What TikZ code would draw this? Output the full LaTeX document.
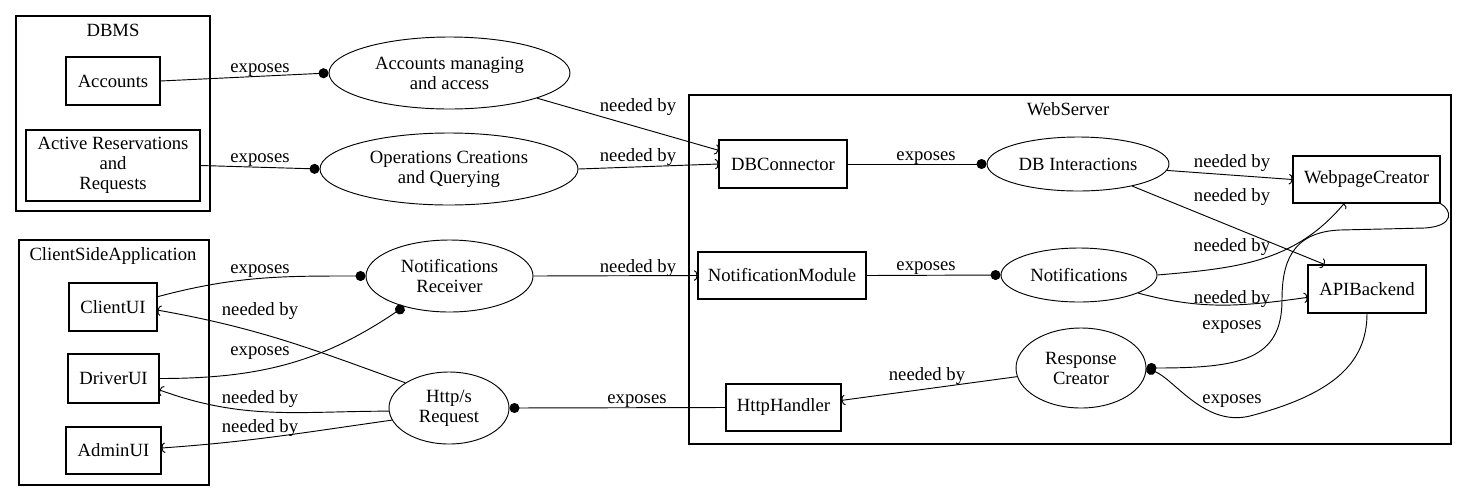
\documentclass[tikz,border=0pt]{standalone}
\usepackage{fontspec}
\setmainfont{Liberation Serif}
\newfontfamily\tnrfont{Liberation Serif}
\usetikzlibrary{shapes.geometric,arrows.meta}
\begin{document}
\begin{tikzpicture}[x=0.75pt,y=-0.75pt,
  every node/.style={font=\tnrfont\fontsize{14}{15}\selectfont},
  box/.style={draw, rectangle, inner sep=0pt, align=center, line width=0.8pt},
  ell/.style={draw, ellipse, inner sep=0pt, align=center, line width=0.7pt},
  clus/.style={draw, line width=0.8pt},
  lbl/.style={inner sep=0pt, yshift=-2pt},
  exp/.style={-{Circle[length=7.5pt]}, line width=0.7pt},
  need/.style={-{Arc Barb[length=2.5pt,width=8pt]}, line width=0.7pt},
]
\useasboundingbox (0,0) rectangle (1467,501);

% clusters
\draw[clus] (16,16) rectangle (210,211);
\node (dbmsl) at (113,30) {DBMS};
\draw[clus] (19,240) rectangle (209,485);
\node (csal) at (113,256) {ClientSideApplication};
\draw[clus] (689,95) rectangle (1451,444);
\node (wsl) at (1068,109) {WebServer};

% boxes
\node[box, minimum width=70.5pt, minimum height=36pt] (acc) at (113,81) {Accounts};
\node[box, minimum width=130.5pt, minimum height=53.25pt] (act) at (113,165.5) {Active Reservations\\and\\Requests};
\node[box, minimum width=96pt, minimum height=36pt] (dbc) at (783,164) {DBConnector};
\node[box, minimum width=110.25pt, minimum height=35.25pt] (wpc) at (1366.5,179.5) {WebpageCreator};
\node[box, minimum width=126pt, minimum height=35.25pt] (nmod) at (782,275.5) {NotificationModule};
\node[box, minimum width=88.5pt, minimum height=36pt] (api) at (1367,289) {APIBackend};
\node[box, minimum width=86.25pt, minimum height=35.25pt] (httph) at (783.5,407.5) {HttpHandler};
\node[box, minimum width=66pt, minimum height=36pt] (cui) at (113,307) {ClientUI};
\node[box, minimum width=68.25pt, minimum height=36.75pt] (dui) at (113.5,378.5) {DriverUI};
\node[box, minimum width=71.25pt, minimum height=35.25pt] (aui) at (113.5,450.5) {AdminUI};

% ellipses
\node[ell, minimum width=180.75pt, minimum height=54pt] (acm) at (449.5,73) {Accounts managing\\and access};
\node[ell, minimum width=193.5pt, minimum height=54pt] (ops) at (449,169) {Operations Creations\\and Querying};
\node[ell, minimum width=136.5pt, minimum height=40.5pt] (dbi) at (1078,164) {DB Interactions};
\node[ell, minimum width=117pt, minimum height=40.5pt] (notif) at (1079,275) {Notifications};
\node[ell, minimum width=97.5pt, minimum height=60pt] (resp) at (1081,368) {Response\\Creator};
\node[ell, minimum width=125.25pt, minimum height=54pt] (nrecv) at (449.5,276) {Notifications\\Receiver};
\node[ell, minimum width=90pt, minimum height=54pt] (http) at (449,408) {Http/s\\Request};

% edges
\draw[exp] (acc.east) -- (acm.west) node[lbl] (l1) at (260,67) {exposes};
\draw[exp] (act.east) -- (ops.west) node[lbl] (l2) at (260,157) {exposes};
\draw[need] (acm) -- (dbc.168) node[lbl] (l3) at (638,104) {needed by};
\draw[need] (ops.east) -- (dbc.west) node[lbl] (l4) at (638,154) {needed by};
\draw[exp] (dbc.east) -- (dbi.west) node[lbl] (l5) at (926,155) {exposes};
\draw[need] (dbi) -- (wpc.west) node[lbl] (l6) at (1232,160) {needed by};
\draw[need] (dbi) -- (api.150) node[lbl] (l7) at (1232,194) {needed by};
\draw[need] (notif.east) to[out=5,in=-130] (wpc.227) node[lbl] (l8) at (1232,244) {needed by};
\draw[need] (notif.-17) to[out=-15,in=188] (api.188) node[lbl] (l9) at (1232,296) {needed by};
\draw[exp] (nmod.east) -- (notif.west) node[lbl] (l10) at (926,265) {exposes};
\draw[need] (nrecv.east) -- (nmod.west) node[lbl] (l11) at (638,265) {needed by};
\draw[exp] (wpc.south east) .. controls (1452,210) and (1455,226) .. (1425,228)
  -- (1340,230) .. controls (1290,232) and (1282,265) .. (1282,300)
  .. controls (1282,360) and (1240,368) .. (resp.east)
  node[lbl] (l12) at (1232,324) {exposes};
\draw[exp] (api.south) .. controls (1367,365) and (1330,395) .. (1250,416)
  .. controls (1205,427) and (1175,380) .. (resp.east)
  node[lbl] (l13) at (1232,398) {exposes};
\draw[need] (resp) -- (httph.7) node[lbl] (l14) at (927,373) {needed by};
\draw[exp] (httph.west) -- (http.east) node[lbl] (l15) at (637,398) {exposes};
\draw[exp] (cui.13) to[out=15,in=180] (nrecv.west) node[lbl] (l16) at (260,268) {exposes};
\draw[exp] (dui.east) to[out=0,in=214] (nrecv.214) node[lbl] (l17) at (260,350) {exposes};
\draw[need] (http.150) to[out=160,in=-10] (cui.-4) node[lbl] (l18) at (260,308) {needed by};
\draw[need] (http.183) to[out=180,in=-20] (dui.-14) node[lbl] (l19) at (260,396) {needed by};
\draw[need] (http.192) to[out=188,in=4] (aui.3) node[lbl] (l20) at (260,425) {needed by};
\end{tikzpicture}
\end{document}
